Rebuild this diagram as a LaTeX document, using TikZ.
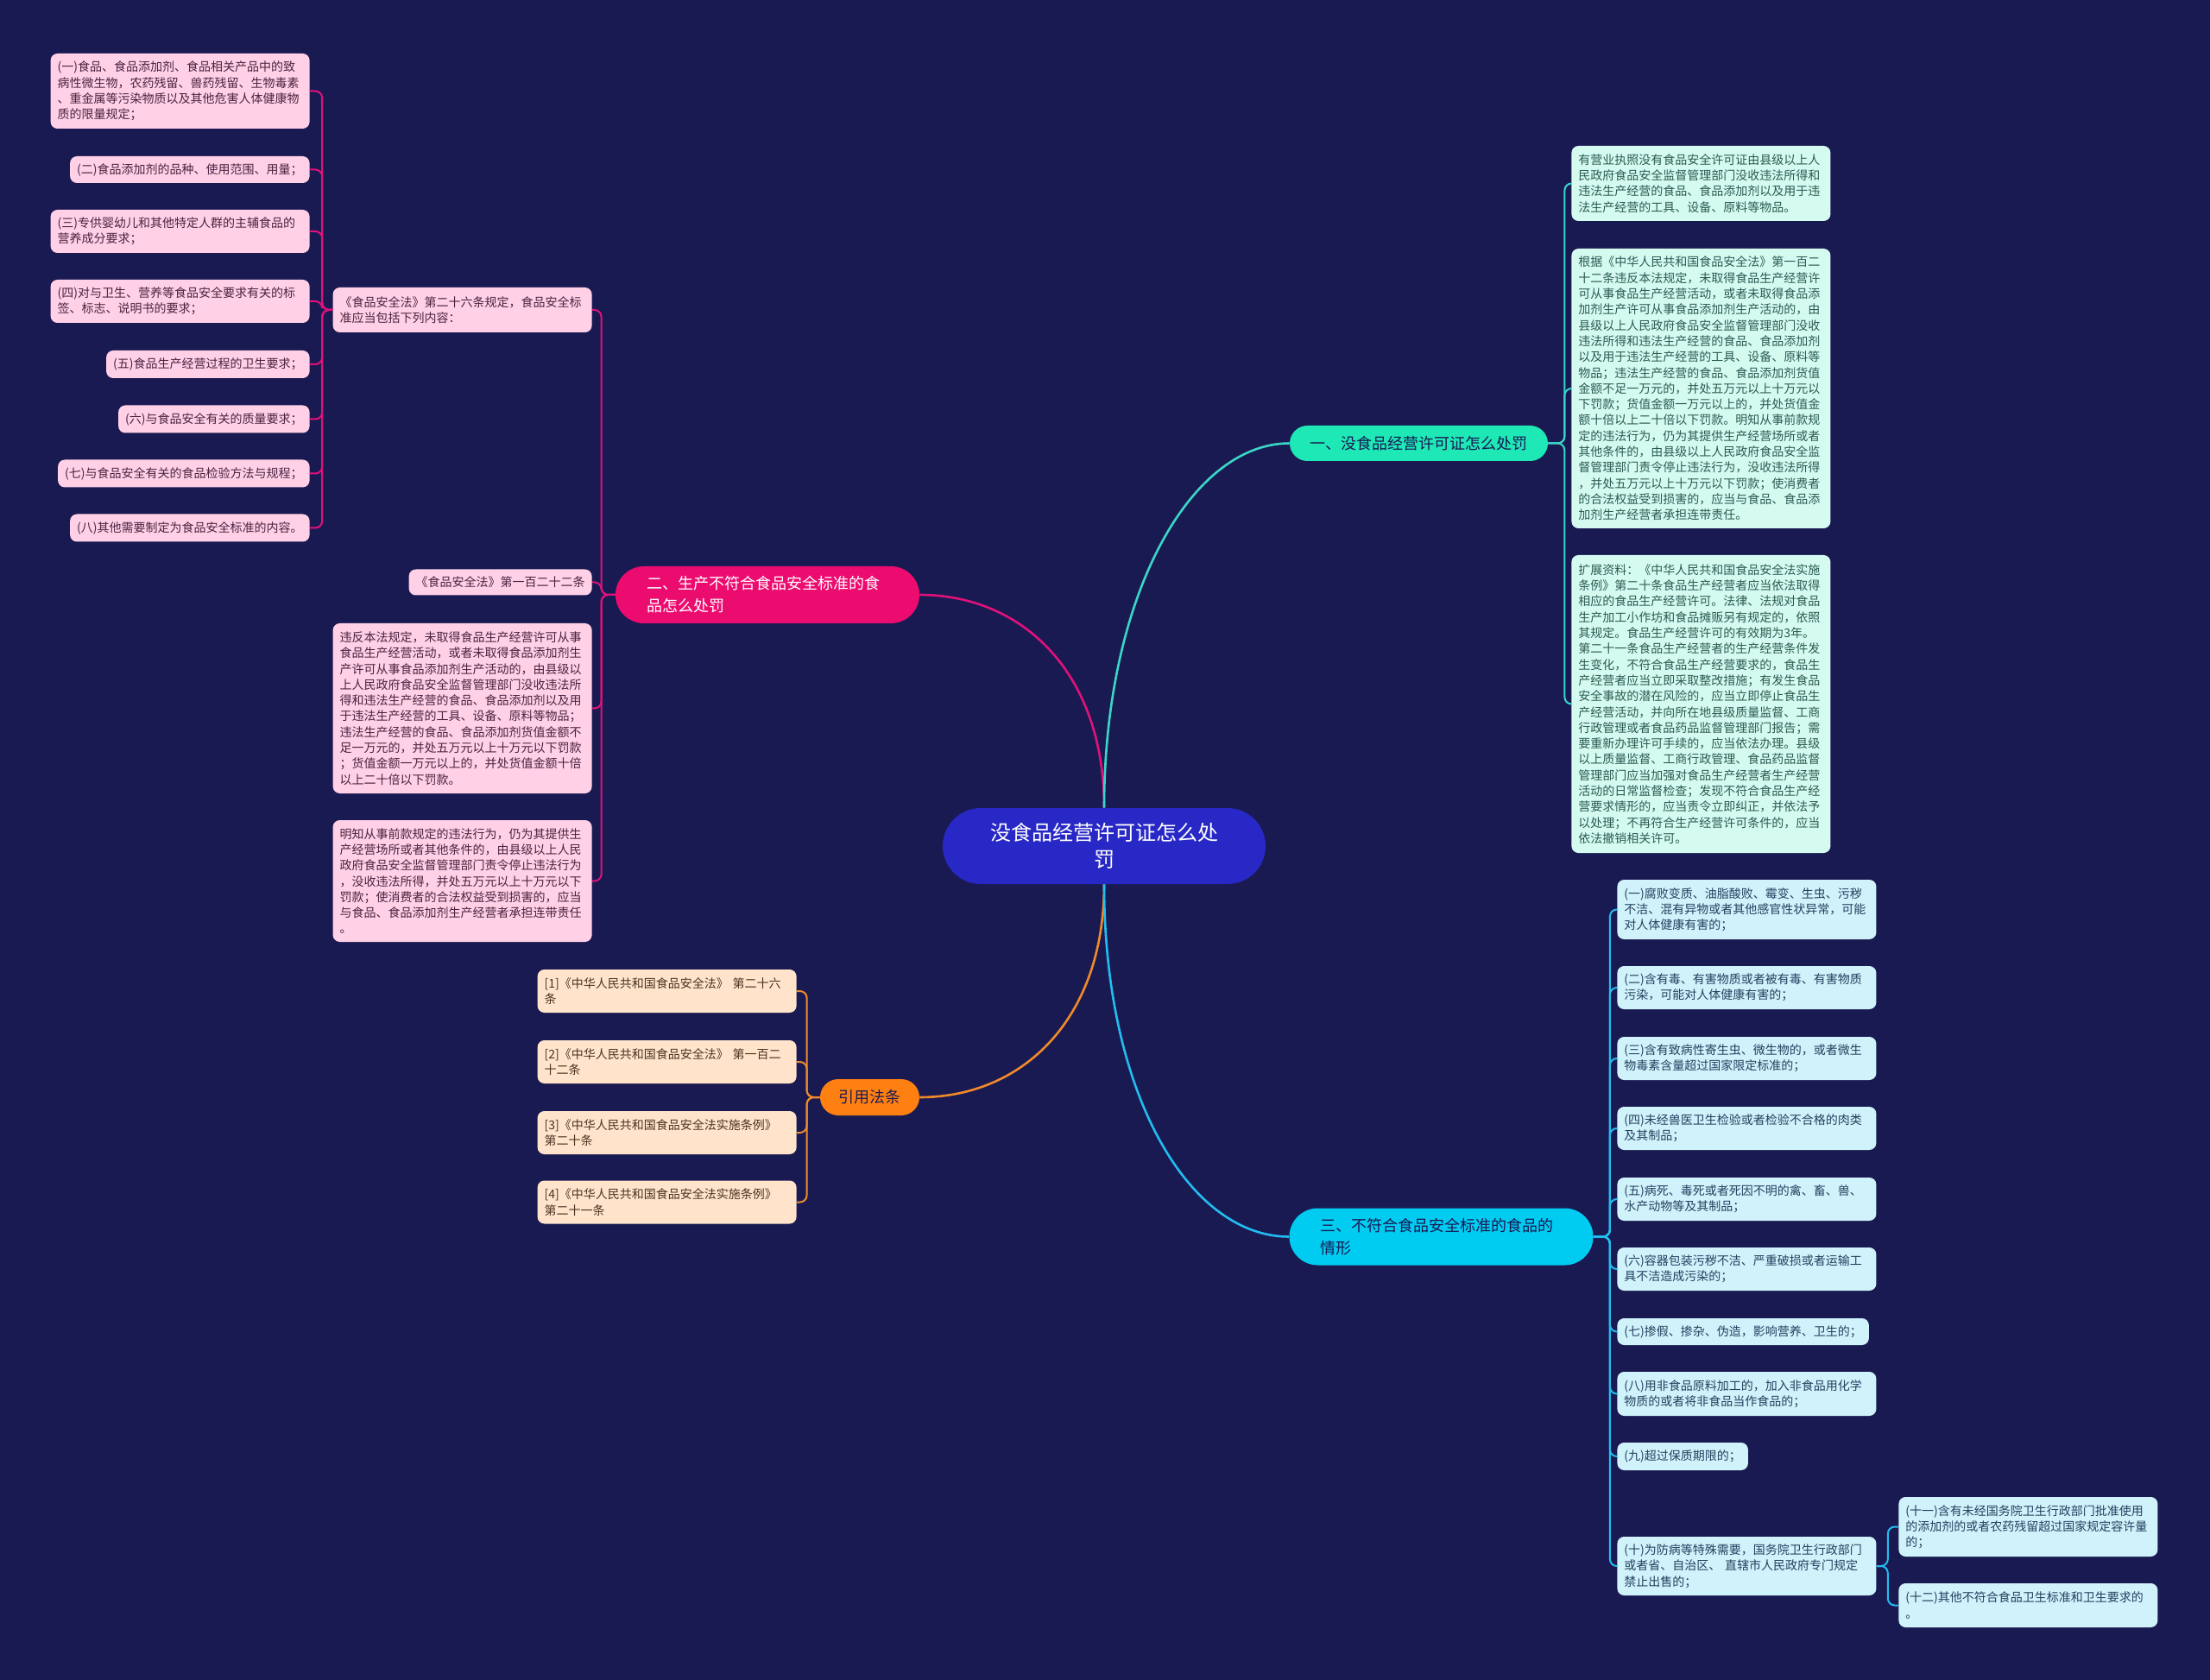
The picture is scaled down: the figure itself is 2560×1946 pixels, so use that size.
\documentclass[tikz,border=0pt]{standalone}
\usepackage{fontspec}
\setmainfont{Noto Sans CJK SC}
\usetikzlibrary{calc}
\definecolor{bg}{HTML}{1A1A52}
\definecolor{cblue}{HTML}{2828C6}
\definecolor{bteal}{HTML}{1EE8B6}
\definecolor{bpink}{HTML}{EC0C70}
\definecolor{borange}{HTML}{FF8012}
\definecolor{bcyan}{HTML}{00CCF2}
\definecolor{lteal}{HTML}{3AD6C8}
\definecolor{lpink}{HTML}{E0127A}
\definecolor{lorange}{HTML}{F08A2A}
\definecolor{lcyan}{HTML}{22BDF0}
\definecolor{pfill}{HTML}{FFD0E6}
\definecolor{ptext}{HTML}{4A2340}
\definecolor{tfill}{HTML}{D5FBF1}
\definecolor{ttext}{HTML}{2B5A52}
\definecolor{cfill}{HTML}{D0F2FB}
\definecolor{ctext}{HTML}{24405E}
\definecolor{ofill}{HTML}{FFE4CB}
\definecolor{otext}{HTML}{4A3322}
\begin{document}
\begin{tikzpicture}[x=0.5pt,y=-0.5pt,
  box/.style={rounded corners=4pt, inner xsep=4pt, inner ysep=2pt, font=\fontsize{7pt}{9.15pt}\selectfont, align=left},
  wbox/.style={box, text width=142pt},
  hh/.style={minimum height=#1*0.5pt},
  pk/.style={fill=pfill, text=ptext},
  tk/.style={fill=tfill, text=ttext},
  ck/.style={fill=cfill, text=ctext},
  ok/.style={fill=ofill, text=otext},
  bnode/.style={inner sep=0pt, font=\fontsize{9pt}{13pt}\selectfont},
  bwide/.style={bnode, text width=140pt, inner xsep=18pt, align=left, minimum height=33pt, rounded corners=16.5pt},
  mainline/.style={line width=1.3pt},
  pl/.style={lpink, line width=1pt, rounded corners=4pt},
  tl/.style={lteal, line width=1pt, rounded corners=4pt},
  cl/.style={lcyan, line width=1pt, rounded corners=4pt},
  ol/.style={lorange, line width=1pt, rounded corners=4pt}
]
\fill[bg] (0,0) rectangle (2560,1946);
\useasboundingbox (0,0) rectangle (2560,1946);

% center
\node[fill=cblue, text=white, rounded corners=22pt, minimum width=187pt, minimum height=44pt, align=center, inner sep=0pt, font=\fontsize{12pt}{15.5pt}\selectfont] (C) at (1279,980) {没食品经营许可证怎么处\\罚};

% branches
\node[bnode, fill=bteal, text=bg, minimum width=149.5pt, minimum height=20.5pt, rounded corners=10.25pt] (B1) at (1643.5,513.5) {一、没食品经营许可证怎么处罚};
\node[bwide, fill=bpink, text=white] (B2) at (889,689) {二、生产不符合食品安全标准的食\\品怎么处罚};
\node[bnode, fill=borange, text=bg, minimum width=57.5pt, minimum height=21pt, rounded corners=10.5pt] (Ob) at (1007.5,1271) {引用法条};
\node[bwide, fill=bcyan, text=bg] (B3) at (1669.5,1432.5) {三、不符合食品安全标准的食品的\\情形};

% pink level 2
\node[wbox, pk, hh=52, anchor=east] (P1) at (686,359) {《食品安全法》第二十六条规定，食品安全标\\准应当包括下列内容：};
\node[box, pk, hh=30, anchor=east] (P2) at (686,674.5) {《食品安全法》第一百二十二条};
\node[wbox, pk, hh=197, anchor=east] (P3) at (686,820.5) {违反本法规定，未取得食品生产经营许可从事\\食品生产经营活动，或者未取得食品添加剂生\\产许可从事食品添加剂生产活动的，由县级以\\上人民政府食品安全监督管理部门没收违法所\\得和违法生产经营的食品、食品添加剂以及用\\于违法生产经营的工具、设备、原料等物品；\\违法生产经营的食品、食品添加剂货值金额不\\足一万元的，并处五万元以上十万元以下罚款\\；货值金额一万元以上的，并处货值金额十倍\\以上二十倍以下罚款。};
\node[wbox, pk, hh=141, anchor=east] (P4) at (686,1020.5) {明知从事前款规定的违法行为，仍为其提供生\\产经营场所或者其他条件的，由县级以上人民\\政府食品安全监督管理部门责令停止违法行为\\，没收违法所得，并处五万元以上十万元以下\\罚款；使消费者的合法权益受到损害的，应当\\与食品、食品添加剂生产经营者承担连带责任\\。};

% pink level 3
\node[wbox, pk, hh=87, anchor=east] (s1) at (359,105.5) {(一)食品、食品添加剂、食品相关产品中的致\\病性微生物，农药残留、兽药残留、生物毒素\\、重金属等污染物质以及其他危害人体健康物\\质的限量规定；};
\node[box, pk, hh=31, anchor=east] (s2) at (359,196.5) {(二)食品添加剂的品种、使用范围、用量；};
\node[wbox, pk, hh=50, anchor=east] (s3) at (359,268) {(三)专供婴幼儿和其他特定人群的主辅食品的\\营养成分要求；};
\node[wbox, pk, hh=50, anchor=east] (s4) at (359,349) {(四)对与卫生、营养等食品安全要求有关的标\\签、标志、说明书的要求；};
\node[box, pk, hh=32, anchor=east] (s5) at (359,422) {(五)食品生产经营过程的卫生要求；};
\node[box, pk, hh=32, anchor=east] (s6) at (359,485.5) {(六)与食品安全有关的质量要求；};
\node[box, pk, hh=32, anchor=east] (s7) at (359,548.5) {(七)与食品安全有关的食品检验方法与规程；};
\node[box, pk, hh=32, anchor=east] (s8) at (359,611.5) {(八)其他需要制定为食品安全标准的内容。};

% teal children
\node[wbox, tk, hh=87, anchor=west] (T1) at (1820,212.5) {有营业执照没有食品安全许可证由县级以上人\\民政府食品安全监督管理部门没收违法所得和\\违法生产经营的食品、食品添加剂以及用于违\\法生产经营的工具、设备、原料等物品。};
\node[wbox, tk, hh=324, anchor=west] (T2) at (1820,450) {根据《中华人民共和国食品安全法》第一百二\\十二条违反本法规定，未取得食品生产经营许\\可从事食品生产经营活动，或者未取得食品添\\加剂生产许可从事食品添加剂生产活动的，由\\县级以上人民政府食品安全监督管理部门没收\\违法所得和违法生产经营的食品、食品添加剂\\以及用于违法生产经营的工具、设备、原料等\\物品；违法生产经营的食品、食品添加剂货值\\金额不足一万元的，并处五万元以上十万元以\\下罚款；货值金额一万元以上的，并处货值金\\额十倍以上二十倍以下罚款。明知从事前款规\\定的违法行为，仍为其提供生产经营场所或者\\其他条件的，由县级以上人民政府食品安全监\\督管理部门责令停止违法行为，没收违法所得\\，并处五万元以上十万元以下罚款；使消费者\\的合法权益受到损害的，应当与食品、食品添\\加剂生产经营者承担连带责任。};
\node[wbox, tk, hh=345, anchor=west] (T3) at (1820,815.5) {扩展资料：《中华人民共和国食品安全法实施\\条例》第二十条食品生产经营者应当依法取得\\相应的食品生产经营许可。法律、法规对食品\\生产加工小作坊和食品摊贩另有规定的，依照\\其规定。食品生产经营许可的有效期为3年。\\第二十一条食品生产经营者的生产经营条件发\\生变化，不符合食品生产经营要求的，食品生\\产经营者应当立即采取整改措施；有发生食品\\安全事故的潜在风险的，应当立即停止食品生\\产经营活动，并向所在地县级质量监督、工商\\行政管理或者食品药品监督管理部门报告；需\\要重新办理许可手续的，应当依法办理。县级\\以上质量监督、工商行政管理、食品药品监督\\管理部门应当加强对食品生产经营者生产经营\\活动的日常监督检查；发现不符合食品生产经\\营要求情形的，应当责令立即纠正，并依法予\\以处理；不再符合生产经营许可条件的，应当\\依法撤销相关许可。};

% orange children
\node[wbox, ok, hh=50, anchor=east] (O1) at (923,1148) {[1]《中华人民共和国食品安全法》 第二十六\\条};
\node[wbox, ok, hh=50, anchor=east] (O2) at (923,1230) {[2]《中华人民共和国食品安全法》 第一百二\\十二条};
\node[wbox, ok, hh=50, anchor=east] (O3) at (923,1312) {[3]《中华人民共和国食品安全法实施条例》\\第二十条};
\node[wbox, ok, hh=50, anchor=east] (O4) at (923,1392.5) {[4]《中华人民共和国食品安全法实施条例》\\第二十一条};

% cyan children
\node[wbox, ck, hh=69, anchor=west] (C1) at (1873,1053.5) {(一)腐败变质、油脂酸败、霉变、生虫、污秽\\不洁、混有异物或者其他感官性状异常，可能\\对人体健康有害的；};
\node[wbox, ck, hh=50, anchor=west] (C2) at (1873,1144) {(二)含有毒、有害物质或者被有毒、有害物质\\污染，可能对人体健康有害的；};
\node[wbox, ck, hh=50, anchor=west] (C3) at (1873,1226) {(三)含有致病性寄生虫、微生物的，或者微生\\物毒素含量超过国家限定标准的；};
\node[wbox, ck, hh=50, anchor=west] (C4) at (1873,1307) {(四)未经兽医卫生检验或者检验不合格的肉类\\及其制品；};
\node[wbox, ck, hh=50, anchor=west] (C5) at (1873,1389) {(五)病死、毒死或者死因不明的禽、畜、兽、\\水产动物等及其制品；};
\node[wbox, ck, hh=50, anchor=west] (C6) at (1873,1470) {(六)容器包装污秽不洁、严重破损或者运输工\\具不洁造成污染的；};
\node[box, ck, hh=31, anchor=west] (C7) at (1873,1542.5) {(七)掺假、掺杂、伪造，影响营养、卫生的；};
\node[wbox, ck, hh=51, anchor=west] (C8) at (1873,1614.5) {(八)用非食品原料加工的，加入非食品用化学\\物质的或者将非食品当作食品的；};
\node[box, ck, hh=32, anchor=west] (C9) at (1873,1687) {(九)超过保质期限的；};
\node[wbox, ck, hh=68, anchor=west] (C10) at (1873,1814) {(十)为防病等特殊需要，国务院卫生行政部门\\或者省、自治区、 直辖市人民政府专门规定\\禁止出售的；};
\node[wbox, ck, hh=69, anchor=west] (C11) at (2199,1768.5) {(十一)含有未经国务院卫生行政部门批准使用\\的添加剂的或者农药残留超过国家规定容许量\\的；};
\node[wbox, ck, hh=51, anchor=west] (C12) at (2199,1859.5) {(十二)其他不符合食品卫生标准和卫生要求的\\。};

% main curves
\draw[lpink, mainline] (C.north) .. controls ($(C.north)+(0,-155)$) and ($(B2.east)+(120,0)$) .. (B2.east);
\draw[lteal, mainline] (C.north) .. controls ($(C.north)+(0,-246)$) and ($(B1.west)+(-114,0)$) .. (B1.west);
\draw[lorange, mainline] (C.south) .. controls ($(C.south)+(0,155)$) and ($(Ob.east)+(120,0)$) .. (Ob.east);
\draw[lcyan, mainline] (C.south) .. controls ($(C.south)+(0,246)$) and ($(B3.west)+(-114,0)$) .. (B3.west);

% sub connectors
\foreach \n in {P1,P2,P3,P4} \draw[pl] (B2.west) -- ++(-16,0) |- (\n.east);
\foreach \n in {s1,s2,s3,s4,s5,s6,s7,s8} \draw[pl] (P1.west) -- ++(-12,0) |- (\n.east);
\foreach \n in {T1,T2,T3} \draw[tl] (B1.east) -- ++(19,0) |- (\n.west);
\foreach \n in {C1,C2,C3,C4,C5,C6,C7,C8,C9,C10} \draw[cl] (B3.east) -- ++(19,0) |- (\n.west);
\foreach \n in {C11,C12} \draw[cl] (C10.east) -- ++(13,0) |- (\n.west);
\foreach \n in {O1,O2,O3,O4} \draw[ol] (Ob.west) -- ++(-15,0) |- (\n.east);
\end{tikzpicture}
\end{document}
